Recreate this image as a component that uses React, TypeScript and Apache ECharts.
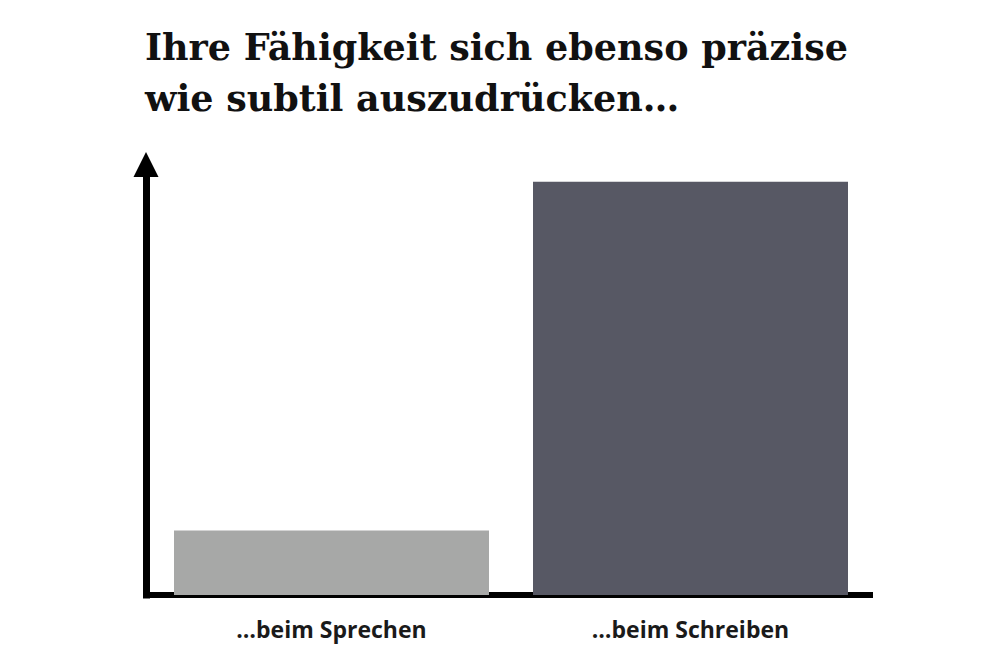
import React from 'react';
import * as echarts from 'echarts';

const titleLines = ['Ihre Fähigkeit sich ebenso präzise', 'wie subtil auszudrücken…'];
const categories = ['…beim Sprechen', '…beim Schreiben'];
const values = [15, 96];
const barColors = ['#a7a8a7', '#575864'];

export default function App() {
  const chartRef = React.useRef<HTMLDivElement>(null);

  React.useEffect(() => {
    if (!chartRef.current) return;
    const chart = echarts.init(chartRef.current, null, { renderer: 'svg' });

    const option = {
      animation: false,
      backgroundColor: '#ffffff',
      title: {
        text: titleLines.join('\n'),
        left: 140,
        top: 17,
        textStyle: {
          fontFamily: 'DejaVu Serif',
          fontWeight: 'bold',
          fontSize: 36.5,
          lineHeight: 51,
          color: '#111111'
        }
      },
      grid: {
        left: 152,
        right: 130,
        top: 164.5,
        bottom: 72,
        containLabel: false
      },
      xAxis: {
        type: 'category',
        data: categories,
        axisTick: { show: false },
        axisLine: {
          show: true,
          lineStyle: { color: '#000000', width: 6, cap: 'square' }
        },
        axisLabel: {
          margin: 22,
          fontFamily: 'Open Sans',
          fontWeight: 'bold',
          fontSize: 23,
          color: '#1a1a1a'
        }
      },
      yAxis: {
        type: 'value',
        min: 0,
        max: 100,
        offset: 6,
        splitLine: { show: false },
        axisTick: { show: false },
        axisLabel: { show: false },
        axisLine: {
          show: true,
          symbol: ['none', 'triangle'],
          symbolSize: [25, 25],
          lineStyle: { color: '#000000', width: 7, cap: 'square' }
        }
      },
      series: [
        {
          type: 'bar',
          barWidth: 315,
          data: values.map((v, i) => ({ value: v, itemStyle: { color: barColors[i] } })),
          z: 1
        }
      ]
    };

    chart.setOption(option);
    return () => {
      chart.dispose();
    };
  }, []);

  return <div ref={chartRef} style={{ width: 1000, height: 667, margin: -8 }} />;
}
